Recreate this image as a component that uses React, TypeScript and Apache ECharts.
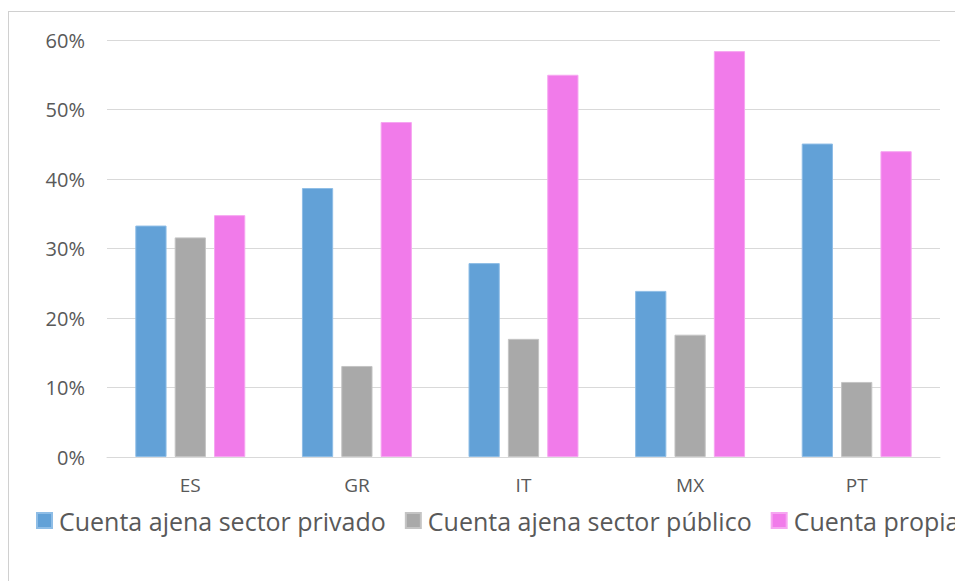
import React, { useEffect, useRef } from "react";
import * as echarts from "echarts";

const categories = ["ES", "GR", "IT", "MX", "PT"];
const seriesNames = [
  "Cuenta ajena sector privado",
  "Cuenta ajena sector público",
  "Cuenta propia",
];
const privado = [33.3, 38.7, 27.9, 23.9, 45.1];
const publico = [31.6, 13.1, 17.0, 17.6, 10.8];
const propia = [34.8, 48.2, 55.0, 58.4, 44.0];
const colors = ["#62A1D7", "#A9A9A9", "#F17BEA"];
const borders = ["#8EBDE6", "#C4C4C4", "#F6A6F1"];

export default function App() {
  const ref = useRef<HTMLDivElement>(null);
  useEffect(() => {
    if (!ref.current) return;
    const chart = echarts.init(ref.current, undefined, { renderer: "svg" });
    const font = "'Open Sans', sans-serif";
    const data = [privado, publico, propia];
    chart.setOption({
      animation: false,
      grid: { left: 107, right: 60, top: 40, bottom: 124, containLabel: false },
      xAxis: {
        type: "category",
        data: categories,
        axisLine: { lineStyle: { color: "#D9D9D9", width: 1 } },
        axisTick: { show: false },
        axisLabel: { color: "#595959", fontSize: 19, fontFamily: font, margin: 18 },
      },
      yAxis: {
        type: "value",
        min: 0,
        max: 60,
        interval: 10,
        axisLine: { show: false },
        axisTick: { show: false },
        splitLine: { lineStyle: { color: "#D9D9D9", width: 1 } },
        axisLabel: {
          color: "#595959",
          fontSize: 20,
          fontFamily: font,
          margin: 22,
          formatter: "{value}%",
        },
      },
      legend: {
        left: 36,
        top: 508,
        padding: 0,
        width: 2000,
        icon: "rect",
        itemWidth: 15,
        itemHeight: 15,
        itemGap: 19,
        textStyle: { color: "#595959", fontSize: 25, fontFamily: font, padding: [0, 0, 0, 2] },
        data: seriesNames,
      },
      series: seriesNames.map((name, i) => ({
        name,
        type: "bar",
        data: data[i],
        barGap: "26%",
        barCategoryGap: "34%",
        itemStyle: { color: colors[i], borderColor: borders[i], borderWidth: 1 },
      })),
    });
    return () => chart.dispose();
  }, []);
  return (
    <div
      style={{
        position: "fixed",
        left: 0,
        top: 0,
        width: 955,
        height: 581,
        overflow: "hidden",
        background: "#fff",
      }}
    >
      <div
        style={{
          position: "absolute",
          left: 8,
          top: 11,
          width: 1100,
          height: 700,
          border: "1px solid #D0D0D0",
          boxSizing: "border-box",
        }}
      />
      <div ref={ref} style={{ position: "absolute", left: 0, top: 0, width: 1000, height: 581 }} />
    </div>
  );
}
